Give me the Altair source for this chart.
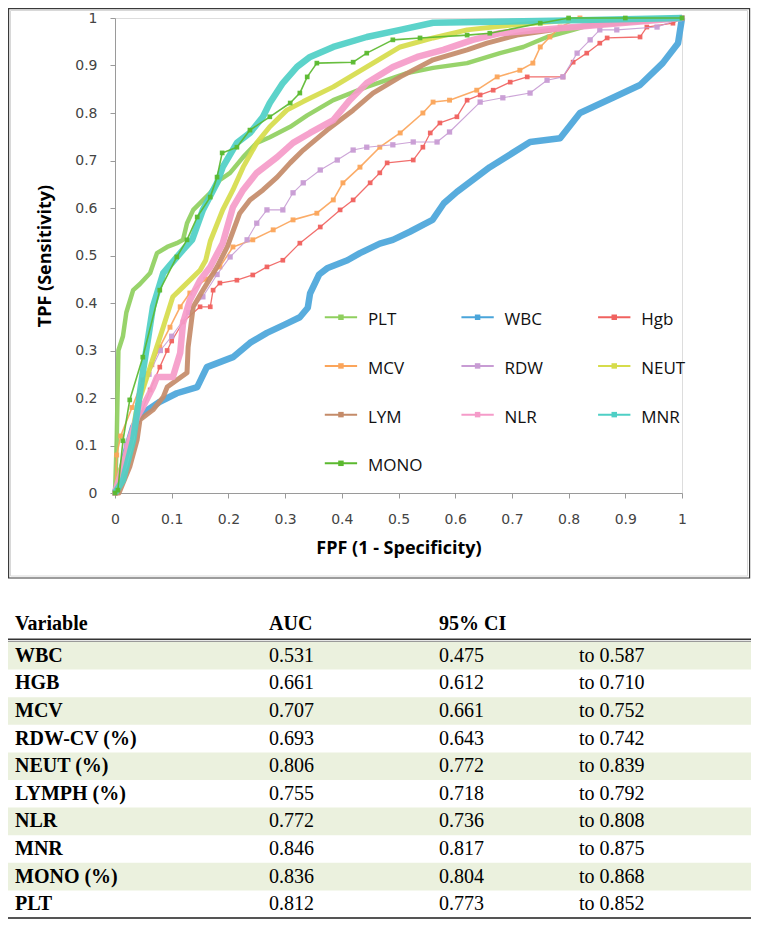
import altair as alt
import pandas as pd

# ---------------- ROC curve data ----------------
series_names = ["PLT", "WBC", "Hgb", "MCV", "RDW", "NEUT", "LYM", "NLR", "MNR", "MONO"]
series_colors = ["#8fcf5e", "#4aa5da", "#f0625f", "#fba55b", "#c89cd4",
                 "#d6dc4b", "#c48b69", "#f59bc9", "#4ecfc5", "#5bb92f"]

plt_fpf = [0, 0.003, 0.006, 0.014, 0.02, 0.032, 0.044, 0.062, 0.074, 0.092, 0.109, 0.12, 0.127, 0.138,
           0.168, 0.185, 0.203, 0.226, 0.25, 0.273, 0.309, 0.339, 0.385, 0.444, 0.515, 0.561, 0.621,
           0.679, 0.72, 0.762, 0.808, 0.85, 0.9, 1.0]
plt_tpf = [0, 0.11, 0.30, 0.33, 0.38, 0.427, 0.44, 0.463, 0.505, 0.518, 0.526, 0.533, 0.568, 0.596,
           0.632, 0.659, 0.674, 0.707, 0.737, 0.749, 0.771, 0.795, 0.827, 0.855, 0.884, 0.895, 0.905,
           0.926, 0.939, 0.96, 0.975, 0.99, 0.995, 1.0]

wbc_fpf = [0, 0.01, 0.02, 0.032, 0.049, 0.079, 0.109, 0.145, 0.162, 0.208, 0.238, 0.268, 0.30, 0.326,
           0.34, 0.344, 0.36, 0.374, 0.41, 0.432, 0.467, 0.49, 0.52, 0.56, 0.58, 0.603, 0.661, 0.70,
           0.732, 0.785, 0.82, 0.878, 0.926, 0.966, 0.993, 1.0]
wbc_tpf = [0, 0.04, 0.09, 0.139, 0.168, 0.192, 0.21, 0.223, 0.265, 0.286, 0.316, 0.337, 0.355, 0.37,
           0.39, 0.42, 0.46, 0.473, 0.49, 0.505, 0.525, 0.533, 0.55, 0.575, 0.61, 0.634, 0.686, 0.715,
           0.739, 0.747, 0.80, 0.832, 0.859, 0.905, 0.947, 1.0]

hgb_fpf = [0, 0.01, 0.02, 0.04, 0.062, 0.079, 0.092, 0.10, 0.12, 0.15, 0.168, 0.173, 0.185, 0.215,
           0.243, 0.268, 0.296, 0.326, 0.362, 0.397, 0.42, 0.45, 0.467, 0.48, 0.526, 0.543, 0.556,
           0.573, 0.603, 0.621, 0.644, 0.667, 0.697, 0.727, 0.79, 0.808, 0.832, 0.855, 0.868, 0.926,
           0.938, 0.984, 1.0]
hgb_tpf = [0, 0.04, 0.08, 0.15, 0.217, 0.265, 0.30, 0.32, 0.36, 0.392, 0.392, 0.427, 0.442, 0.448,
           0.459, 0.476, 0.49, 0.526, 0.56, 0.596, 0.617, 0.653, 0.674, 0.695, 0.701, 0.728, 0.758,
           0.779, 0.792, 0.827, 0.838, 0.848, 0.865, 0.876, 0.876, 0.907, 0.926, 0.947, 0.958, 0.96,
           0.981, 0.989, 1.0]

mcv_fpf = [0, 0.003, 0.01, 0.03, 0.049, 0.065, 0.079, 0.097, 0.115, 0.132, 0.16, 0.185, 0.208, 0.243,
           0.279, 0.314, 0.356, 0.385, 0.402, 0.432, 0.467, 0.503, 0.543, 0.561, 0.59, 0.638, 0.674,
           0.714, 0.737, 0.75, 0.767, 0.785, 0.82, 1.0]
mcv_tpf = [0, 0.08, 0.12, 0.18, 0.238, 0.27, 0.307, 0.349, 0.392, 0.421, 0.45, 0.476, 0.518, 0.533,
           0.554, 0.575, 0.589, 0.617, 0.653, 0.686, 0.728, 0.758, 0.80, 0.823, 0.827, 0.848, 0.876,
           0.89, 0.905, 0.939, 0.96, 0.981, 1.0, 1.0]

rdw_fpf = [0, 0.02, 0.04, 0.06, 0.08, 0.1, 0.13, 0.155, 0.18, 0.203, 0.233, 0.25, 0.268, 0.296, 0.314,
           0.332, 0.362, 0.392, 0.42, 0.444, 0.49, 0.526, 0.568, 0.59, 0.644, 0.684, 0.732, 0.762,
           0.79, 0.815, 0.838, 0.855, 0.885, 0.956, 1.0]
rdw_tpf = [0, 0.1, 0.18, 0.25, 0.3, 0.33, 0.38, 0.413, 0.46, 0.497, 0.533, 0.568, 0.596, 0.596, 0.632,
           0.653, 0.68, 0.701, 0.722, 0.728, 0.733, 0.739, 0.739, 0.76, 0.823, 0.832, 0.842, 0.869,
           0.876, 0.926, 0.954, 0.975, 0.975, 0.981, 1.0]

neut_fpf = [0, 0.01, 0.026, 0.039, 0.062, 0.085, 0.102, 0.12, 0.15, 0.16, 0.168, 0.19, 0.208, 0.226,
            0.25, 0.273, 0.303, 0.332, 0.385, 0.444, 0.503, 0.561, 0.621, 0.7, 0.8, 1.0]
neut_tpf = [0, 0.05, 0.097, 0.181, 0.265, 0.349, 0.413, 0.434, 0.469, 0.49, 0.53, 0.596, 0.638, 0.686,
            0.737, 0.771, 0.806, 0.824, 0.855, 0.897, 0.939, 0.958, 0.975, 0.985, 0.995, 1.0]

lym_fpf = [0, 0.007, 0.026, 0.039, 0.044, 0.067, 0.085, 0.092, 0.127, 0.129, 0.138, 0.155, 0.18, 0.198,
           0.22, 0.238, 0.261, 0.286, 0.309, 0.332, 0.374, 0.42, 0.455, 0.503, 0.561, 0.621, 0.656,
           0.709, 0.8, 0.9, 1.0]
lym_tpf = [0, 0.0, 0.055, 0.112, 0.154, 0.175, 0.202, 0.223, 0.253, 0.307, 0.392, 0.427, 0.476, 0.518,
           0.589, 0.617, 0.638, 0.665, 0.695, 0.722, 0.764, 0.806, 0.842, 0.876, 0.912, 0.933, 0.947,
           0.964, 0.98, 0.99, 1.0]

nlr_fpf = [0, 0.005, 0.014, 0.026, 0.039, 0.049, 0.067, 0.074, 0.102, 0.115, 0.12, 0.132, 0.15, 0.168,
           0.19, 0.208, 0.226, 0.25, 0.286, 0.314, 0.344, 0.385, 0.414, 0.444, 0.49, 0.533, 0.579,
           0.631, 0.679, 0.8, 0.9, 1.0]
nlr_tpf = [0, 0.02, 0.055, 0.112, 0.16, 0.181, 0.223, 0.244, 0.244, 0.295, 0.358, 0.406, 0.448, 0.476,
           0.526, 0.602, 0.638, 0.674, 0.707, 0.737, 0.758, 0.785, 0.827, 0.863, 0.897, 0.918, 0.933,
           0.954, 0.968, 0.98, 0.99, 1.0]

mnr_fpf = [0, 0.014, 0.032, 0.049, 0.067, 0.085, 0.12, 0.136, 0.155, 0.18, 0.19, 0.215, 0.238, 0.261,
           0.273, 0.296, 0.321, 0.344, 0.385, 0.444, 0.503, 0.561, 0.8, 1.0]
mnr_tpf = [0, 0.027, 0.112, 0.253, 0.392, 0.463, 0.512, 0.533, 0.596, 0.653, 0.686, 0.737, 0.758, 0.792,
           0.821, 0.863, 0.897, 0.918, 0.939, 0.96, 0.975, 0.99, 0.995, 1.0]

mono_fpf = [0, 0.005, 0.014, 0.026, 0.049, 0.079, 0.109, 0.127, 0.145, 0.168, 0.18, 0.189, 0.215,
            0.238, 0.273, 0.309, 0.326, 0.339, 0.356, 0.42, 0.444, 0.49, 0.538, 0.621, 0.661, 0.75,
            0.8, 0.9, 1.0]
mono_tpf = [0, 0.006, 0.11, 0.196, 0.286, 0.427, 0.497, 0.533, 0.581, 0.623, 0.665, 0.716, 0.728,
            0.764, 0.792, 0.821, 0.842, 0.876, 0.905, 0.907, 0.926, 0.954, 0.958, 0.964, 0.968, 0.989,
            1.0, 1.0, 1.0]

# ---------------- Table data ----------------
tbl_variable = ["WBC", "HGB", "MCV", "RDW-CV (%)", "NEUT (%)", "LYMPH (%)", "NLR", "MNR", "MONO (%)", "PLT"]
tbl_auc = [0.531, 0.661, 0.707, 0.693, 0.806, 0.755, 0.772, 0.846, 0.836, 0.812]
tbl_ci_low = [0.475, 0.612, 0.661, 0.643, 0.772, 0.718, 0.736, 0.817, 0.804, 0.773]
tbl_ci_high = [0.587, 0.710, 0.752, 0.742, 0.839, 0.792, 0.808, 0.875, 0.868, 0.852]
tbl_headers = ["Variable", "AUC", "95% CI"]

# ---------------- styling ----------------
curves = {
    "PLT": (plt_fpf, plt_tpf), "WBC": (wbc_fpf, wbc_tpf), "Hgb": (hgb_fpf, hgb_tpf),
    "MCV": (mcv_fpf, mcv_tpf), "RDW": (rdw_fpf, rdw_tpf), "NEUT": (neut_fpf, neut_tpf),
    "LYM": (lym_fpf, lym_tpf), "NLR": (nlr_fpf, nlr_tpf), "MNR": (mnr_fpf, mnr_tpf),
    "MONO": (mono_fpf, mono_tpf),
}
stroke_w = {"PLT": 4.5, "WBC": 6.5, "Hgb": 1.3, "MCV": 1.6, "RDW": 1.1, "NEUT": 5,
            "LYM": 5, "NLR": 6.5, "MNR": 6.5, "MONO": 1.6}
marker_size = {"Hgb": 22, "MCV": 24, "RDW": 28, "MONO": 22}

W, H = 567, 475
xscale = alt.Scale(domain=[0, 1], nice=False, zero=False)
yscale = alt.Scale(domain=[0, 1], nice=False, zero=False)
ticks = [round(i / 10, 1) for i in range(11)]

x_axis = alt.Axis(values=ticks, format="~g", grid=False, tickSize=5, tickColor="#9a9a9a",
                  domainColor="#9a9a9a", labelFont="DejaVu Sans", labelFontSize=14,
                  labelColor="#444444", labelPadding=14, labelFlush=False,
                  title="FPF (1 - Specificity)", titleFont="Open Sans", titleFontSize=18,
                  titleFontWeight="bold", titleColor="#000000", titlePadding=13)
y_axis = alt.Axis(values=ticks, format="~g", grid=False, tickSize=5, tickColor="#9a9a9a",
                  domainColor="#9a9a9a", labelFont="DejaVu Sans", labelFontSize=14,
                  labelColor="#444444", labelPadding=13, labelFlush=False,
                  title="TPF (Sensitivity)", titleFont="Open Sans", titleFontSize=18,
                  titleFontWeight="bold", titleColor="#000000", titlePadding=20)


def X(field):
    return alt.X(field, scale=xscale, axis=x_axis)


def Y(field):
    return alt.Y(field, scale=yscale, axis=y_axis)


layers = []
color_of = dict(zip(series_names, series_colors))
for name in series_names:
    fx, fy = curves[name]
    df = pd.DataFrame({"fpf": fx, "tpf": fy, "i": list(range(len(fx)))})
    base = alt.Chart(df)
    line = base.mark_line(color=color_of[name], strokeWidth=stroke_w[name], opacity=0.92,
                          strokeJoin="round", strokeCap="butt").encode(
        x=X("fpf:Q"), y=Y("tpf:Q"), order="i:Q")
    layers.append(line)
    if name in marker_size:
        pts = base.mark_square(color=color_of[name], size=marker_size[name], opacity=0.95).encode(
            x=X("fpf:Q"), y=Y("tpf:Q"))
        layers.append(pts)

# ---------------- in-plot legend (3 columns) ----------------
leg_col = [i % 3 for i in range(len(series_names))]
leg_row = [i // 3 for i in range(len(series_names))]
leg = pd.DataFrame({
    "name": series_names,
    "x0": [0.370 + 0.241 * c for c in leg_col],
    "x1": [0.427 + 0.241 * c for c in leg_col],
    "xm": [0.3985 + 0.241 * c for c in leg_col],
    "xt": [0.446 + 0.241 * c for c in leg_col],
    "y": [0.370 - 0.1025 * r for r in leg_row],
})
leg_color = alt.Color("name:N", scale=alt.Scale(domain=series_names, range=series_colors), legend=None)
layers.append(alt.Chart(leg).mark_rule(strokeWidth=2).encode(
    x=X("x0:Q"), x2="x1:Q", y=Y("y:Q"), color=leg_color))
layers.append(alt.Chart(leg).mark_square(size=30, opacity=1).encode(
    x=X("xm:Q"), y=Y("y:Q"), color=leg_color))
layers.append(alt.Chart(leg).mark_text(align="left", baseline="middle", dy=3, font="Open Sans",
                                       fontSize=17, color="#111111").encode(
    x=X("xt:Q"), y=Y("y:Q"), text="name:N"))

# ---------------- frame around the chart image ----------------
one = pd.DataFrame({"k": [0]})
layers.append(alt.Chart(one).mark_rect(fillOpacity=0, stroke="#3a3a3a", strokeWidth=1.2).encode(
    x=alt.value(-106.4), x2=alt.value(634.6), y=alt.value(-9.4), y2=alt.value(560)))
layers.append(alt.Chart(one).mark_rect(fillOpacity=0, stroke="#d8d8d8", strokeWidth=1).encode(
    x=alt.value(-104.5), x2=alt.value(632.5), y=alt.value(-7.5), y2=alt.value(558)))

# ---------------- table below the plot (rows placed on the same y scale) ----------------
T0, RH = 624.0, 27.6          # pixel offset of first row below plot top, row height


def row_pos(r):
    return (H - (T0 + RH * r)) / H


n = len(tbl_variable)
tbl = pd.DataFrame({
    "row": list(range(n)),
    "y0": [row_pos(r) for r in range(n)],
    "y1": [row_pos(r + 1) for r in range(n)],
    "yc": [row_pos(r + 0.5) for r in range(n)],
    "variable": tbl_variable,
    "auc": [f"{v:.3f}" for v in tbl_auc],
    "lo": [f"{v:.3f}" for v in tbl_ci_low],
    "hi": ["to " + f"{v:.3f}" for v in tbl_ci_high],
})
shaded = tbl[tbl["row"] % 2 == 0]
layers.insert(0, alt.Chart(shaded).mark_rect(color="#ebf1de").encode(
    y=Y("y0:Q"), y2="y1:Q", x=alt.value(-107), x2=alt.value(636)))

col_x = [-100, 154, 324, 464]
col_fields = ["variable", "auc", "lo", "hi"]
for cx, field in zip(col_x, col_fields):
    bold = field == "variable"
    layers.append(alt.Chart(tbl).mark_text(align="left", baseline="middle", font="Liberation Serif",
                                           fontSize=20, fontWeight="bold" if bold else "normal",
                                           color="#000000").encode(
        x=alt.value(cx), y=Y("yc:Q"), text=f"{field}:N"))

hdr = pd.DataFrame({"label": tbl_headers})
for cx, lab in zip(col_x[:3], tbl_headers):
    layers.append(alt.Chart(hdr[hdr["label"] == lab]).mark_text(
        align="left", baseline="middle", font="Liberation Serif", fontSize=20,
        fontWeight="bold", color="#000000").encode(x=alt.value(cx), y=alt.value(606), text="label:N"))

layers.append(alt.Chart(one).mark_rule(color="#333333", strokeWidth=1.5).encode(
    x=alt.value(-107), x2=alt.value(636), y=alt.value(621.3)))
layers.append(alt.Chart(one).mark_rule(color="#9a9a9a", strokeWidth=1.2).encode(
    x=alt.value(-107), x2=alt.value(636), y=alt.value(623.4)))
layers.append(alt.Chart(one).mark_rule(color="#555555", strokeWidth=1.8).encode(
    x=alt.value(-107), x2=alt.value(636), y=alt.value(900)))

chart = alt.layer(*layers).properties(
    width=W, height=H,
    autosize=alt.AutoSizeParams(type="none"),
    padding={"left": 107, "top": 10, "right": 69, "bottom": 426},
).configure_view(strokeWidth=0, stroke="transparent").configure(background="white")

chart.save("out.html", embed_options={"renderer": "svg", "actions": False})
